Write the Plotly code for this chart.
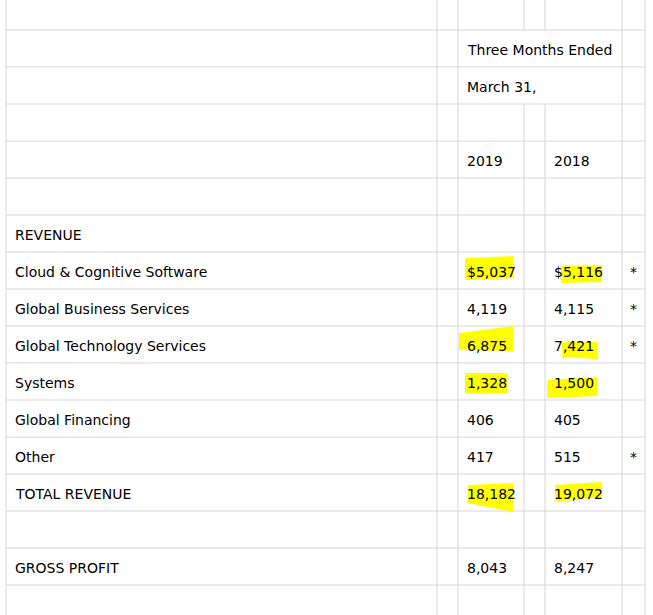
import plotly.graph_objects as go

# ---------------- data ----------------
header_line1 = "Three Months Ended"
header_line2 = "March 31,"
years = ["2019", "2018"]
section_label = "REVENUE"
categories = ["Cloud & Cognitive Software", "Global Business Services",
              "Global Technology Services", "Systems", "Global Financing",
              "Other", "TOTAL REVENUE"]
values_2019 = ["$5,037", "4,119", "6,875", "1,328", "406", "417", "18,182"]
values_2018 = ["$5,116", "4,115", "7,421", "1,500", "405", "515", "19,072"]
footnote = ["*", "*", "*", "", "", "*", ""]
gp_label = "GROSS PROFIT"
gp_2019 = "8,043"
gp_2018 = "8,247"

# highlighted cells: (category index, year column index)
highlighted = [(0, 0), (0, 1), (2, 0), (2, 1), (3, 0), (3, 1), (6, 0), (6, 1)]

# ---------------- layout geometry ----------------
W, H = 653, 615
col_edges = [6, 437, 458, 524, 545, 622, 645]   # label | gap | 2019 | gap | 2018 | star
row_h = 37
first_line = 30
n_rows = 17  # row 0 partially visible above first line


def row_top(i):
    return first_line + row_h * (i - 1)


PAD = 8
FONT = dict(family="DejaVu Sans, Verdana, sans-serif", size=14, color="#000000")
GRID = "#d6d6d6"

# highlight stroke shapes relative to cell (x0,x1, top-left, top-right, bottom-left, bottom-right)
hl_style = {
    (0, 0): (7, 55, 6, 4, 28, 26),
    (0, 1): (16, 57, 14, 13, 31, 30),
    (2, 0): (1, 55, 7, 0, 24, 25),
    (2, 1): (17, 52, 16, 16, 31, 33),
    (3, 0): (7, 49, 10, 10, 30, 30),
    (3, 1): (2, 52, 17, 14, 35, 33),
    (6, 0): (10, 55, 11, 9, 29, 38),
    (6, 1): (10, 57, 11, 8, 28, 23),
}

shapes = []
annotations = []

# horizontal grid lines
for i in range(1, n_rows):
    y = row_top(i)
    shapes.append(dict(type="line", x0=col_edges[0], x1=col_edges[-1], y0=y, y1=y,
                       line=dict(color=GRID, width=1), layer="below"))

# vertical grid lines (merged header rows 1 and 2 omit inner lines of the year block)
merged_rows = {1, 2}
for i in range(0, n_rows):
    y0 = row_top(i) if i > 0 else 0
    y1 = row_top(i + 1)
    for k, x in enumerate(col_edges):
        if i in merged_rows and k in (3, 4):
            continue
        shapes.append(dict(type="line", x0=x, x1=x, y0=y0, y1=y1,
                           line=dict(color=GRID, width=1), layer="below"))

year_col_left = [col_edges[2], col_edges[4]]
star_left = col_edges[5]

# highlight strokes
for (ci, yi) in highlighted:
    x0r, x1r, tl, tr, bl, br = hl_style[(ci, yi)]
    top = row_top(7 + ci)
    left = year_col_left[yi]
    path = (f"M {left + x0r},{top + tl} L {left + x1r},{top + tr} "
            f"L {left + x1r},{top + br} L {left + x0r},{top + bl} Z")
    shapes.append(dict(type="path", path=path, fillcolor="#ffff00",
                       line=dict(width=0), layer="below"))


def text(x, row, s):
    annotations.append(dict(x=x, y=row_top(row) + row_h / 2 + 1, text=s, showarrow=False,
                            xanchor="left", yanchor="middle", font=FONT,
                            xref="x", yref="y", borderpad=0))


text(year_col_left[0] + PAD, 1, header_line1)
text(year_col_left[0] + PAD, 2, header_line2)
text(year_col_left[0] + PAD, 4, years[0])
text(year_col_left[1] + PAD, 4, years[1])
text(col_edges[0] + PAD, 6, section_label)
for j, cat in enumerate(categories):
    r = 7 + j
    text(col_edges[0] + PAD, r, cat)
    text(year_col_left[0] + PAD, r, values_2019[j])
    text(year_col_left[1] + PAD, r, values_2018[j])
    if footnote[j]:
        text(star_left + PAD - 1, r, footnote[j])
text(col_edges[0] + PAD, 15, gp_label)
text(year_col_left[0] + PAD, 15, gp_2019)
text(year_col_left[1] + PAD, 15, gp_2018)

fig = go.Figure()
fig.add_trace(go.Scatter(x=[0, W], y=[0, H], mode="markers",
                         marker=dict(opacity=0), hoverinfo="skip", showlegend=False))
fig.update_layout(
    width=W, height=H, margin=dict(l=0, r=0, t=0, b=0),
    paper_bgcolor="white", plot_bgcolor="white",
    xaxis=dict(range=[0, W], visible=False, fixedrange=True),
    yaxis=dict(range=[H, 0], visible=False, fixedrange=True),
    shapes=shapes, annotations=annotations, showlegend=False,
)
fig.write_html("out.html", config={"displayModeBar": False},
               post_script="document.body.style.margin='0';document.body.style.overflow='hidden';")
